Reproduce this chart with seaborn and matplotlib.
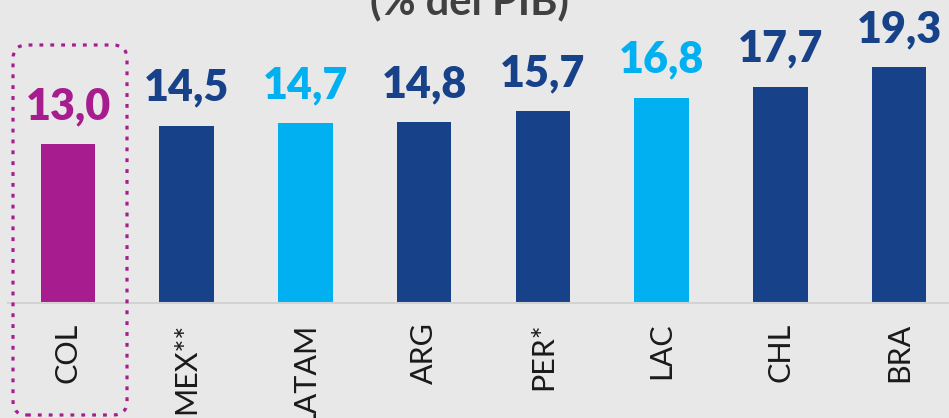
import numpy as np
import pandas as pd
import matplotlib
matplotlib.use("Agg")
import matplotlib.pyplot as plt
import seaborn as sns
from matplotlib.patches import FancyBboxPatch
from matplotlib.transforms import IdentityTransform

# ==============================================================================
# Datos
# ==============================================================================
paises = ["COL", "MEX**", "LATAM", "ARG", "PER*", "LAC", "CHL", "BRA"]
valores = [13.0, 14.5, 14.7, 14.8, 15.7, 16.8, 17.7, 19.3]
grupos = ["col", "pais", "region", "pais", "pais", "region", "pais", "pais"]
titulo = "(% del PIB)"

colores_grupo = {"col": "#A71D8F", "pais": "#17428A", "region": "#00B0F0"}
fondo = "#E8E8E8"

df = pd.DataFrame({"pais": paises, "valor": valores, "grupo": grupos})
paleta = [colores_grupo[g] for g in grupos]

# ==============================================================================
# Gráfico
# ==============================================================================
sns.set_style("white")
plt.rcParams["font.family"] = ["Lato", "DejaVu Sans"]

fig = plt.figure(figsize=(9.49, 4.18), dpi=100, facecolor=fondo)
ax = fig.add_axes([8 / 949, 0.275, 941 / 949, 0.725])
ax.set_facecolor(fondo)

sns.barplot(data=df, x="pais", y="valor", hue="pais", palette=paleta,
            legend=False, width=0.46, saturation=1, linewidth=0, ax=ax)

ax.set_ylim(0, 24.8)
ax.set_xlim(-0.505, 7.42)

# Etiquetas de valor
for i, (v, g) in enumerate(zip(valores, grupos)):
    ax.annotate(f"{v:.1f}".replace(".", ","), (i, v), xytext=(0, 13),
                textcoords="offset points", ha="center", va="bottom",
                fontsize=31, fontweight="heavy", color=colores_grupo[g])

ax.set_xlabel("")
ax.set_ylabel("")
ax.set_yticks([])
ax.tick_params(axis="x", length=0, pad=14, labelsize=22, labelcolor="#1A1A1A",
               labelrotation=90)

for lado in ["top", "right", "left"]:
    ax.spines[lado].set_visible(False)
ax.spines["bottom"].set_color("#D2D2D2")
ax.spines["bottom"].set_linewidth(1.5)

# Título (recortado arriba)
fig.text(0.495, 1 - 14 / 418, titulo, ha="center", va="baseline",
         fontsize=30, fontweight="bold", color="#404040")

# Recuadro punteado alrededor de COL
recuadro = FancyBboxPatch((13, 418 - 415), 114, 370,
                          boxstyle="round,pad=0,rounding_size=14",
                          transform=IdentityTransform(), fill=False,
                          edgecolor="#A71D8F", linewidth=2.3,
                          linestyle=(0, (1.2, 2.2)), clip_on=False)
fig.add_artist(recuadro)

plt.savefig("out.png", dpi=100, facecolor=fondo)
